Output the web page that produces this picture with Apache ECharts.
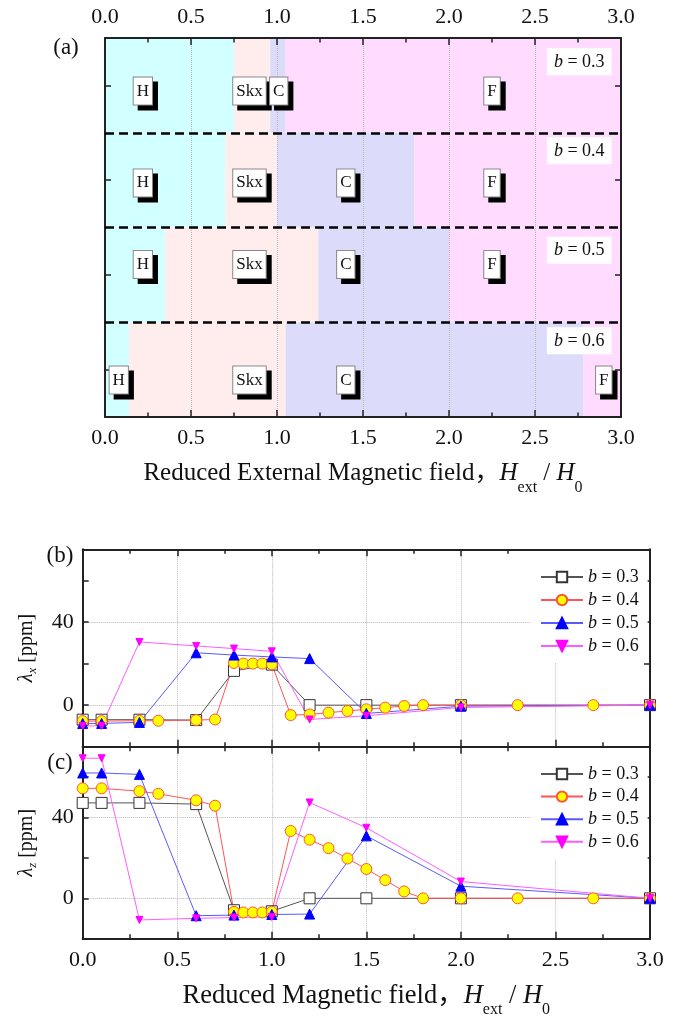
<!DOCTYPE html>
<html>
<head>
<meta charset="utf-8">
<title>Phase diagram and magnetostriction</title>
<script src="https://cdn.jsdelivr.net/npm/echarts@6.0.0/dist/echarts.min.js"></script>
<style>
  html, body { margin: 0; padding: 0; background: #fff; }
  #chart { width: 689px; height: 1019px; }
</style>
</head>
<body>
<div id="chart"></div>
<script>
// ---------- panel (a): phase boundaries for each b (x = H_ext / H_0)
const bValues = ['0.3', '0.4', '0.5', '0.6']
const phaseNames = ['H', 'Skx', 'C', 'F']
const edgesB03 = [0, 0.75, 0.96, 1.05, 3.0]
const edgesB04 = [0, 0.70, 1.00, 1.80, 3.0]
const edgesB05 = [0, 0.35, 1.24, 2.00, 3.0]
const edgesB06 = [0, 0.14, 1.05, 2.78, 3.0]
// where the phase tags sit (data coords)
const tagXB03 = [0.22, 0.84, 1.01, 2.25]
const tagXB04 = [0.22, 0.84, 1.40, 2.25]
const tagXB05 = [0.22, 0.84, 1.40, 2.25]
const tagXB06 = [0.08, 0.84, 1.40, 2.90]
const tagRowY = [3.44, 2.47, 1.61, 0.39]
const bTagX = 2.757
const bTagRowY = [3.75, 2.81, 1.76, 0.805]
const rowBreaks = [1, 2, 3]

// ---------- panels (b) and (c): lambda_x and lambda_z [ppm]
const xB03 = [0, 0.1, 0.3, 0.6, 0.8, 1.0, 1.2, 1.5, 2.0, 3.0]
const lamXB03 = [-7, -7, -7, -7.2, 16.5, 19.5, 0, 0, 0, 0]
const lamZB03 = [47.2, 47.2, 47.2, 46.6, -5.9, -6.4, 0, 0, 0, 0]

const xB04 = [0, 0.1, 0.3, 0.4, 0.6, 0.7, 0.8, 0.85, 0.9, 0.95, 1.0, 1.1, 1.2, 1.3, 1.4, 1.5, 1.6, 1.7, 1.8, 2.0, 2.3, 2.7, 3.0]
const lamXB04 = [-7.7, -7.7, -7.5, -7.5, -7.2, -6.9, 20.3, 20, 20, 20, 19.7, -4.8, -4.5, -3.6, -2.8, -2.0, -1.2, -0.4, 0, 0, 0, 0, 0]
const lamZB04 = [54.4, 54.4, 53, 51.7, 48.5, 45.8, -6.7, -7, -7, -7, -6.7, 33.3, 29, 24.8, 19.7, 14.5, 9, 3.4, 0, 0, 0, 0, 0]

const xB05 = [0, 0.1, 0.3, 0.6, 0.8, 1.0, 1.2, 1.5, 2.0, 3.0]
const lamXB05 = [-8.8, -8.8, -8.3, 25.2, 24.1, 23.2, 22.4, -4, -0.5, 0]
const lamZB05 = [62, 62, 61.3, -8.6, -8.3, -8, -7.8, 30.9, 6.0, 0]

const xB06 = [0, 0.1, 0.3, 0.6, 0.8, 1.0, 1.2, 1.5, 2.0, 3.0]
const lamXB06 = [-10, -10, 30.4, 28.5, 27.2, 25.9, -6.9, -5.1, -1.1, 0]
const lamZB06 = [69.3, 69.3, -10.7, -9.9, -9.5, -9.2, 47.4, 34.9, 8.3, 0]

const xTicks = [0, 3.0]
const lamRange = [-20, 75]

const FF = "'Liberation Serif', 'Times New Roman', 'Noto Sans CJK SC', serif"
const INK = '#111'
const AXIS = '#222'
const phaseColors = ['#d2ffff', '#ffecec', '#dcdcfa', '#ffdcff']

const markStyles = {
  '0.3': { symbol: 'rect', size: 11, fill: '#fff', border: '#333', line: '#555', rotate: 0 },
  '0.4': { symbol: 'circle', size: 11, fill: '#ffff00', border: '#ff5533', line: '#ff5555', rotate: 0 },
  '0.5': { symbol: 'triangle', size: 10, fill: '#0000ff', border: '#0000ff', line: '#5a5aff', rotate: 0 },
  '0.6': { symbol: 'triangle', size: 7, fill: '#ff00ff', border: '#ff00ff', line: '#ff5cff', rotate: 180 }
}

function titleRich(size) {
  return {
    n: { fontFamily: FF, fontSize: size, color: INK },
    h: { fontFamily: FF, fontSize: size, fontStyle: 'italic', color: INK },
    s: { fontFamily: FF, fontSize: 16, color: INK, padding: [28, 0, 0, 0], lineHeight: 16 }
  }
}
const lamRich = {
  l: { fontFamily: FF, fontSize: 20, fontStyle: 'italic', color: INK },
  s: { fontFamily: FF, fontSize: 13, fontStyle: 'italic', color: INK, padding: [12, 0, 0, 0], lineHeight: 13 },
  n: { fontFamily: FF, fontSize: 20, color: INK }
}

const chart = echarts.init(document.getElementById('chart'), null, { renderer: 'canvas' })

// rectangles of panel (a)
const phaseData = []
const tagData = []
const allEdges = [edgesB03, edgesB04, edgesB05, edgesB06]
const allTagX = [tagXB03, tagXB04, tagXB05, tagXB06]
allEdges.forEach((edges, r) => {
  for (let p = 0; p < phaseNames.length; p++) {
    phaseData.push([edges[p], edges[p + 1], bValues.length - 1 - r, p])
    tagData.push([allTagX[r][p], tagRowY[r], phaseNames[p]])
  }
})
const bTagData = bValues.map((b, r) => [bTagX, bTagRowY[r], b])

function xAxisOf(grid, position, showLabels, name, titleSize) {
  const ax = {
    type: 'value', gridIndex: grid, position: position,
    min: xTicks[0], max: xTicks[1], interval: 0.5,
    axisLine: { show: true, onZero: false, lineStyle: { color: AXIS, width: 2 } },
    axisTick: { show: true, inside: true, length: 7, lineStyle: { color: AXIS, width: 1.5 } },
    minorTick: { show: true, splitNumber: 2, length: 4.5, lineStyle: { color: AXIS, width: 1.5 } },
    axisLabel: {
      show: showLabels, margin: 10,
      fontFamily: FF, fontSize: 22, color: INK,
      formatter: v => v.toFixed(1)
    },
    splitLine: { show: position === 'bottom', lineStyle: { color: '#b8b8b8', type: 'dotted', width: 1 } }
  }
  if (name) {
    ax.name = name
    ax.nameLocation = 'middle'
    ax.nameGap = 44
    ax.nameTextStyle = { rich: titleRich(titleSize) }
  }
  return ax
}

function lamAxis(grid, position, name) {
  const ax = {
    type: 'value', gridIndex: grid, position: position,
    min: lamRange[0], max: lamRange[1], interval: 20,
    axisLine: { show: true, onZero: false, lineStyle: { color: AXIS, width: 2 } },
    axisTick: { show: true, inside: true, length: 6, lineStyle: { color: AXIS, width: 1.5 } },
    axisLabel: {
      show: position === 'left', margin: 9, fontFamily: FF, fontSize: 22, color: INK,
      formatter: v => (v === 0 || v === 40) ? String(v) : ''
    },
    splitLine: { show: false }
  }
  if (position === 'left') {
    // dotted grid only at 0 and 40
    ax.splitLine = {
      show: true, showMinLine: true, showMaxLine: true,
      lineStyle: { color: ['rgba(0,0,0,0)', '#b8b8b8'], type: 'dotted', width: 1 }
    }
    ax.name = name
    ax.nameLocation = 'middle'
    ax.nameRotate = 90
    ax.nameGap = 46
    ax.nameTextStyle = { rich: lamRich }
  }
  return ax
}

function lineSeries(b, xs, ys, axisIdx) {
  const st = markStyles[b]
  return {
    name: 'b = ' + b,
    type: 'line',
    xAxisIndex: axisIdx, yAxisIndex: axisIdx,
    data: xs.map((x, i) => [x, ys[i]]),
    symbol: st.symbol, symbolSize: st.size, symbolRotate: st.rotate,
    showAllSymbol: true,
    lineStyle: { color: st.line, width: 1 },
    itemStyle: { color: st.fill, borderColor: st.border, borderWidth: 1, opacity: 1 },
    emphasis: { disabled: true },
    z: 3
  }
}

const legendNames = bValues.map(b => 'b = ' + b)
function legendAt(top, pad, gap) {
  return {
    orient: 'vertical', left: 531, top: top, padding: pad, itemGap: gap,
    itemWidth: 42, itemHeight: 13, backgroundColor: '#fff',
    data: legendNames, selectedMode: false,
    formatter: n => '{i|b}' + n.slice(1),
    textStyle: {
      fontFamily: FF, fontSize: 18, lineHeight: 18, color: INK,
      rich: { i: { fontFamily: FF, fontSize: 18, lineHeight: 18, fontStyle: 'italic', color: INK } }
    }
  }
}

function tagLayer(shadow) {
  return {
    type: 'scatter',
    xAxisIndex: 0, yAxisIndex: 0,
    silent: true,
    data: tagData,
    symbolSize: 1,
    itemStyle: { color: 'rgba(0,0,0,0)', opacity: 1 },
    z: shadow ? 3 : 4,
    label: {
      show: true, position: 'inside',
      offset: shadow ? [5, 5] : [0, 0],
      formatter: p => p.value[2],
      fontFamily: FF, fontSize: 17, lineHeight: 20,
      color: shadow ? '#000' : INK,
      backgroundColor: shadow ? '#000' : '#fff',
      borderColor: shadow ? '#000' : '#888', borderWidth: 1,
      padding: [4, 3, 3, 3]
    }
  }
}

const option = {
  animation: false,
  backgroundColor: '#fff',
  grid: [
    { left: 105, top: 38, width: 516, height: 379 },
    { left: 82.7, top: 549.3, width: 567.3, height: 197.4 },
    { left: 82.7, top: 746.7, width: 567.3, height: 197.6 }
  ],
  xAxis: [
    xAxisOf(0, 'bottom', true, '{n|Reduced External Magnetic field，}{h|H}{s|ext}{n| / }{h|H}{s|0}', 25),
    xAxisOf(0, 'top', true),
    xAxisOf(1, 'bottom', false),
    xAxisOf(1, 'top', false),
    xAxisOf(2, 'bottom', true, '{n|Reduced Magnetic field，}{h|H}{s|ext}{n| / }{h|H}{s|0}', 26.5),
    xAxisOf(2, 'top', false)
  ],
  yAxis: [
    {
      type: 'value', gridIndex: 0, position: 'left', min: 0, max: 4, interval: 0.5,
      axisLine: { show: true, onZero: false, lineStyle: { color: AXIS, width: 2 } },
      axisTick: { show: true, inside: true, length: 6, customValues: [0.5, 1.5, 2.5, 3.5], lineStyle: { color: AXIS, width: 1.5 } },
      axisLabel: { show: false }, splitLine: { show: false }
    },
    {
      type: 'value', gridIndex: 0, position: 'right', min: 0, max: 4, interval: 0.5,
      axisLine: { show: true, onZero: false, lineStyle: { color: AXIS, width: 2 } },
      axisTick: { show: true, inside: true, length: 6, customValues: [0.5, 1.5, 2.5, 3.5], lineStyle: { color: AXIS, width: 1.5 } },
      axisLabel: { show: false }, splitLine: { show: false }
    },
    lamAxis(1, 'left', '{l|λ}{s|x}{n| [ppm]}'),
    lamAxis(1, 'right'),
    lamAxis(2, 'left', '{l|λ}{s|z}{n| [ppm]}'),
    lamAxis(2, 'right')
  ],
  legend: [
    legendAt(551, [17, 9, 8, 9], 5),
    legendAt(748, [17, 9, 9, 9], 4.6)
  ],
  graphic: [
    { type: 'text', x: 66, y: 48, style: { text: '(a)', font: '23px ' + FF, fill: INK, align: 'center', verticalAlign: 'middle' } },
    { type: 'text', x: 60, y: 556, style: { text: '(b)', font: '23px ' + FF, fill: INK, align: 'center', verticalAlign: 'middle' } },
    { type: 'text', x: 60, y: 763, style: { text: '(c)', font: '23px ' + FF, fill: INK, align: 'center', verticalAlign: 'middle' } }
  ],
  series: [
    {
      type: 'custom',
      xAxisIndex: 0, yAxisIndex: 0,
      z: -1,
      silent: true,
      data: phaseData,
      encode: { x: [0, 1], y: 2 },
      renderItem: (params, api) => {
        const tl = api.coord([api.value(0), api.value(2) + 1])
        const br = api.coord([api.value(1), api.value(2)])
        return {
          type: 'rect',
          shape: { x: tl[0], y: tl[1], width: br[0] - tl[0], height: br[1] - tl[1] },
          style: { fill: phaseColors[api.value(3)] }
        }
      },
      markLine: {
        silent: true, symbol: 'none', label: { show: false },
        lineStyle: { color: '#000', type: [9, 5], width: 2.5 },
        data: rowBreaks.map(y => ({ yAxis: y }))
      }
    },
    tagLayer(true),
    tagLayer(false),
    {
      type: 'scatter',
      xAxisIndex: 0, yAxisIndex: 0,
      silent: true,
      data: bTagData,
      symbolSize: 1,
      itemStyle: { color: 'rgba(0,0,0,0)', opacity: 1 },
      label: {
        show: true, position: 'inside',
        formatter: p => '{i|b} = ' + p.value[2],
        fontFamily: FF, fontSize: 18, color: INK, lineHeight: 20,
        backgroundColor: '#fff', padding: [4, 7, 3, 7],
        rich: { i: { fontFamily: FF, fontSize: 18, fontStyle: 'italic', color: INK, lineHeight: 20 } }
      }
    },
    lineSeries('0.3', xB03, lamXB03, 2),
    lineSeries('0.4', xB04, lamXB04, 2),
    lineSeries('0.5', xB05, lamXB05, 2),
    lineSeries('0.6', xB06, lamXB06, 2),
    lineSeries('0.3', xB03, lamZB03, 4),
    lineSeries('0.4', xB04, lamZB04, 4),
    lineSeries('0.5', xB05, lamZB05, 4),
    lineSeries('0.6', xB06, lamZB06, 4)
  ]
}

chart.setOption(option)
</script>
</body>
</html>
